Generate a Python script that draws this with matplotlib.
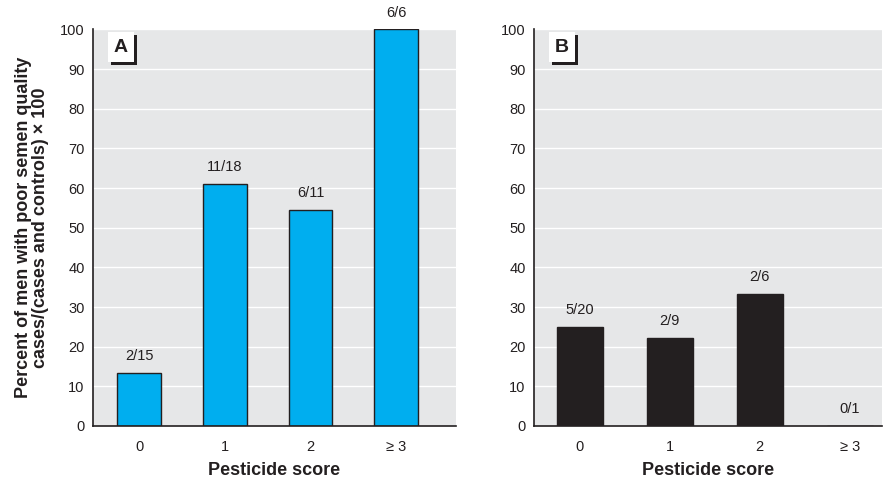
import matplotlib
matplotlib.use("Agg")
import matplotlib.pyplot as plt
from matplotlib.patches import Rectangle

plt.rcParams['font.family'] = ['Liberation Sans', 'DejaVu Sans']

categories = ['0', '1', '2', '≥ 3']
a_cases = [2, 11, 6, 6]
a_totals = [15, 18, 11, 6]
b_cases = [5, 2, 2, 0]
b_totals = [20, 9, 6, 1]
panel_labels = ['A', 'B']
yticks = list(range(0, 101, 10))

W, H = 883, 478
fig = plt.figure(figsize=(W / 100, H / 100), dpi=100)
axA = fig.add_axes([0.1053, 0.1088, 0.4111, 0.8295])
axB = fig.add_axes([0.6048, 0.1088, 0.3941, 0.8295])

specs = [(axA, a_cases, a_totals, '#00aeef', (-0.54, 3.70)),
         (axB, b_cases, b_totals, '#231f20', (-0.51, 3.36))]

for (ax, cases, totals, color, xl), lab in zip(specs, panel_labels):
    vals = [100.0 * c / t for c, t in zip(cases, totals)]
    x = list(range(len(categories)))
    ax.set_facecolor('#e6e7e8')
    ax.bar(x, vals, width=0.51, color=color, edgecolor='#231f20', linewidth=1.0, zorder=3)
    for xi, v, c, t in zip(x, vals, cases, totals):
        ax.annotate(f'{c}/{t}', (xi, v), xytext=(0, 7), textcoords='offset points',
                    ha='center', va='bottom', fontsize=10.5, color='#231f20', annotation_clip=False)
    ax.set_ylim(0, 100)
    ax.set_xlim(*xl)
    ax.set_yticks(yticks)
    ax.set_xticks(x)
    ax.set_xticklabels(categories)
    ax.yaxis.grid(True, color='white', linewidth=1.0, zorder=0)
    ax.set_axisbelow(True)
    for s in ['top', 'right']:
        ax.spines[s].set_visible(False)
    for s in ['left', 'bottom']:
        ax.spines[s].set_color('#231f20')
        ax.spines[s].set_linewidth(1.2)
        ax.spines[s].set_zorder(4)
    ax.tick_params(axis='both', length=0, labelsize=10.5, colors='#231f20', pad=6)
    ax.tick_params(axis='x', pad=10)
    ax.set_xlabel('Pesticide score', fontsize=13, fontweight='bold', color='#231f20', labelpad=6)
    pos = ax.get_position()
    aw, ah = pos.width * W, pos.height * H
    w, h = 26 / aw, 30 / ah
    x0 = 15 / aw
    dx, dy = 3 / aw, 3 / ah
    ax.add_patch(Rectangle((x0 + dx, 1 - (3 + 30 + 3) / ah), w, h,
                           transform=ax.transAxes, facecolor='#231f20', edgecolor='none', zorder=5, clip_on=False))
    ax.add_patch(Rectangle((x0, 1 - (3 + 30) / ah), w, h,
                           transform=ax.transAxes, facecolor='white', edgecolor='none', zorder=6, clip_on=False))
    ax.text(x0 + w / 2, 1 - (3 + 15) / ah, lab, transform=ax.transAxes,
            ha='center', va='center', fontsize=14, fontweight='bold', color='#231f20', zorder=7)

axA.set_ylabel('Percent of men with poor semen quality\ncases/(cases and controls) × 100',
               fontsize=13, fontweight='bold', color='#231f20', labelpad=8, linespacing=1.0)

fig.savefig('out.png', dpi=100)
